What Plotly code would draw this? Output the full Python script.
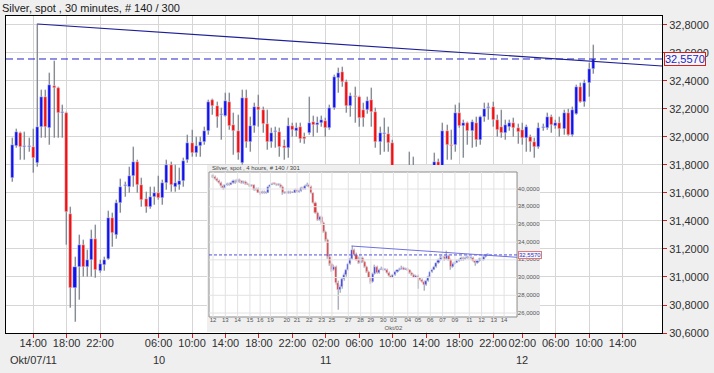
import plotly.graph_objects as go

# ---------------- main chart: Silver spot, 30-minute candles ----------------
bar_index = list(range(140))
opens = [31.707, 31.936, 32.029, 31.930, 31.930, 31.929, 31.814, 32.071, 32.286, 32.064,
         32.364, 32.350, 32.171, 32.171, 31.450, 30.921, 31.071, 31.229, 31.071, 31.121,
         31.271, 31.043, 31.086, 31.129, 31.421, 31.300, 31.529, 31.650, 31.643, 31.721,
         31.821, 31.657, 31.557, 31.500, 31.571, 31.600, 31.564, 31.671, 31.800, 31.643,
         31.657, 31.686, 31.836, 31.957, 31.886, 31.936, 31.964, 32.043, 32.264, 32.221,
         32.157, 32.150, 32.250, 32.086, 32.043, 31.814, 32.279, 31.964, 32.079, 32.214,
         32.193, 32.093, 31.964, 32.036, 32.036, 31.936, 31.921, 32.079, 32.043, 32.071,
         32.000, 32.029, 32.107, 32.086, 32.100, 32.114, 32.064, 32.207, 32.421, 32.464,
         32.393, 32.221, 32.293, 32.286, 32.193, 32.193, 32.264, 32.179, 31.964, 32.020,
         32.021, 31.957, 31.730, 31.600, 31.660, 31.560, 31.700, 31.620, 31.520, 31.600,
         31.550, 31.700, 31.820, 31.760, 32.043, 31.943, 31.943, 32.171, 32.079, 32.100,
         32.043, 32.100, 31.979, 32.143, 32.207, 32.214, 32.121, 32.071, 32.029, 32.070,
         32.100, 32.064, 32.050, 31.993, 32.000, 31.964, 31.929, 32.064, 32.064, 32.143,
         32.079, 32.100, 32.057, 32.171, 32.014, 32.164, 32.357, 32.250, 32.386, 32.486]
highs = [31.993, 32.057, 32.036, 32.036, 31.990, 32.057, 32.807, 32.336, 32.336, 32.457,
         32.543, 32.357, 32.229, 32.180, 31.500, 31.143, 31.300, 31.264, 31.193, 31.336,
         31.371, 31.121, 31.143, 31.471, 31.457, 31.550, 31.700, 31.679, 31.786, 31.930,
         31.836, 31.707, 31.607, 31.643, 31.643, 31.720, 31.693, 31.836, 31.821, 31.800,
         31.779, 31.850, 32.014, 32.050, 32.000, 32.000, 32.071, 32.264, 32.271, 32.250,
         32.207, 32.314, 32.314, 32.171, 32.157, 32.336, 32.336, 32.143, 32.243, 32.300,
         32.214, 32.193, 32.064, 32.070, 32.064, 31.979, 32.136, 32.100, 32.100, 32.100,
         32.030, 32.286, 32.150, 32.140, 32.150, 32.136, 32.230, 32.443, 32.493, 32.500,
         32.407, 32.314, 32.360, 32.290, 32.243, 32.286, 32.350, 32.207, 32.071, 32.136,
         32.070, 31.980, 31.740, 31.700, 31.720, 31.895, 31.860, 31.700, 31.640, 31.720,
         31.730, 31.886, 31.840, 32.100, 32.086, 32.050, 32.229, 32.243, 32.121, 32.107,
         32.121, 32.143, 32.150, 32.243, 32.243, 32.250, 32.157, 32.193, 32.120, 32.120,
         32.136, 32.090, 32.100, 32.086, 32.014, 31.993, 32.100, 32.090, 32.171, 32.157,
         32.120, 32.140, 32.193, 32.200, 32.214, 32.371, 32.386, 32.407, 32.529, 32.657]
lows = [31.679, 31.921, 31.836, 31.836, 31.893, 31.743, 31.786, 31.993, 31.993, 31.943,
        31.993, 31.993, 31.993, 31.229, 30.779, 30.680, 30.836, 30.999, 31.000, 31.000,
        30.993, 31.029, 31.043, 31.121, 31.214, 31.271, 31.457, 31.571, 31.600, 31.643,
        31.600, 31.500, 31.457, 31.486, 31.514, 31.550, 31.514, 31.621, 31.607, 31.607,
        31.621, 31.640, 31.814, 31.857, 31.857, 31.857, 31.943, 32.014, 32.157, 32.064,
        31.979, 32.143, 32.050, 31.871, 31.836, 31.800, 31.921, 31.893, 32.029, 32.071,
        32.029, 31.907, 31.921, 31.920, 31.857, 31.836, 31.850, 32.000, 32.000, 31.957,
        31.950, 32.014, 32.000, 32.030, 32.070, 32.000, 32.050, 32.193, 32.314, 32.357,
        32.171, 32.143, 32.100, 32.071, 32.070, 32.164, 32.071, 31.921, 31.871, 31.893,
        31.893, 31.700, 31.550, 31.500, 31.520, 31.500, 31.580, 31.480, 31.450, 31.500,
        31.500, 31.660, 31.700, 31.740, 31.836, 31.836, 31.893, 32.064, 31.850, 31.943,
        31.921, 31.929, 31.943, 32.107, 32.121, 32.071, 32.000, 31.993, 31.980, 32.040,
        32.000, 31.950, 31.943, 31.893, 31.893, 31.850, 31.914, 32.040, 32.050, 32.029,
        32.060, 32.000, 32.014, 32.007, 32.000, 32.157, 32.243, 32.214, 32.286, 32.450]
closes = [31.943, 32.036, 31.929, 31.930, 31.930, 31.850, 32.071, 32.286, 32.071, 32.371,
          32.350, 32.171, 32.171, 31.464, 30.921, 31.071, 31.229, 31.071, 31.121, 31.271,
          31.050, 31.093, 31.121, 31.421, 31.314, 31.529, 31.643, 31.650, 31.721, 31.821,
          31.657, 31.550, 31.500, 31.571, 31.600, 31.564, 31.671, 31.800, 31.657, 31.671,
          31.686, 31.829, 31.957, 31.886, 31.936, 31.964, 32.043, 32.250, 32.221, 32.143,
          32.157, 32.257, 32.079, 32.043, 31.886, 32.279, 31.964, 32.079, 32.214, 32.193,
          32.093, 31.964, 32.029, 32.036, 31.929, 31.921, 32.079, 32.050, 32.064, 31.986,
          31.986, 32.100, 32.086, 32.100, 32.121, 32.064, 32.207, 32.429, 32.457, 32.393,
          32.221, 32.293, 32.286, 32.136, 32.136, 32.257, 32.179, 31.964, 32.029, 32.020,
          31.957, 31.730, 31.600, 31.660, 31.560, 31.700, 31.620, 31.520, 31.600, 31.550,
          31.700, 31.820, 31.760, 32.043, 31.943, 31.936, 32.171, 32.079, 32.100, 32.043,
          32.107, 31.979, 32.143, 32.200, 32.207, 32.121, 32.050, 32.029, 32.086, 32.100,
          32.064, 32.036, 31.993, 32.071, 31.964, 31.929, 32.064, 32.064, 32.143, 32.086,
          32.100, 32.057, 32.171, 32.014, 32.193, 32.357, 32.250, 32.386, 32.486, 32.557]

last_price = 32.557
trend_index = [6, 155.43]
trend_price = [32.807, 32.507]

x_tick_index = [5, 13, 21, 35, 43, 51, 59, 67, 75, 83, 91, 99, 107, 115, 122, 130, 138, 146]
x_tick_text = ["14:00", "18:00", "22:00", "06:00", "10:00", "14:00", "18:00", "22:00", "02:00",
               "06:00", "10:00", "14:00", "18:00", "22:00", "02:00", "06:00", "10:00", "14:00"]
day_label_index = [5, 35, 75, 122]
day_label_text = ["Okt/07/11", "10", "11", "12"]
y_tick_values = [30.6, 30.8, 31.0, 31.2, 31.4, 31.6, 31.8, 32.0, 32.2, 32.4, 32.6, 32.8]

# ---------------- inset: Silver spot, 4-hour candles ----------------
inset_index = list(range(135))
inset_open = [41.5, 41.35, 41.1, 40.9, 40.7, 40.3, 40.1, 40.4, 40.6, 40.5,
              40.7, 40.9, 40.8, 41.0, 40.85, 40.7, 40.8, 40.6, 40.5, 40.3,
              40.4, 39.9, 40.0, 39.6, 39.5, 39.7, 39.5, 39.6, 40.2, 40.45,
              40.6, 40.55, 40.4, 40.5, 40.2, 39.5, 39.6, 39.5, 39.7, 39.55,
              39.6, 39.9, 39.7, 39.8, 40.1, 40.0, 40.3, 40.5, 40.2, 39.5,
              38.4, 37.3, 36.5, 36.8, 36.2, 35.2, 34.2, 32.3, 31.5, 30.85,
              31.2, 29.4, 28.6, 28.9, 29.8, 30.3, 30.85, 31.5, 32.1, 33.1,
              32.6, 32.0, 31.6, 32.2, 31.8, 31.2, 30.6, 30.0, 29.5, 30.4,
              31.2, 30.5, 30.9, 31.0, 30.85, 30.9, 30.5, 30.2, 30.0, 30.3,
              30.6, 30.8, 31.0, 31.1, 30.9, 31.0, 30.85, 30.5, 30.3, 30.0,
              30.2, 29.9, 29.7, 29.5, 29.2, 29.6, 30.1, 30.6, 30.9, 31.2,
              31.6, 32.0, 32.2, 32.3, 32.1, 32.4, 32.0, 31.2, 31.5, 31.7,
              31.9, 32.0, 32.2, 32.1, 32.2, 32.3, 32.2, 32.2, 31.9, 31.6,
              31.9, 32.1, 32.0, 32.3, 32.5]
inset_high = [41.6, 41.45, 41.2, 41.0, 40.8, 40.4, 40.5, 40.7, 40.7, 40.8,
              41.0, 41.0, 41.1, 41.1, 40.9, 40.9, 40.9, 40.7, 40.6, 40.5,
              40.5, 40.1, 40.1, 39.7, 39.8, 39.8, 39.7, 40.3, 40.5, 40.7,
              40.7, 40.6, 40.6, 40.6, 40.3, 39.7, 39.7, 39.8, 39.8, 39.7,
              40.0, 40.0, 39.9, 40.2, 40.2, 40.4, 40.7, 40.6, 40.3, 39.6,
              38.5, 37.4, 37.0, 36.9, 36.3, 35.3, 34.3, 32.5, 31.6, 31.4,
              31.3, 29.6, 29.2, 29.9, 30.5, 31.0, 31.6, 32.2, 33.6, 33.2,
              32.8, 32.3, 32.7, 32.3, 31.9, 31.3, 30.7, 30.1, 30.5, 31.4,
              31.3, 31.0, 31.2, 31.1, 31.0, 31.0, 30.6, 30.3, 30.4, 30.7,
              30.9, 31.1, 31.3, 31.2, 31.1, 31.1, 30.9, 30.6, 30.4, 30.3,
              30.3, 30.0, 29.8, 29.6, 29.7, 30.2, 30.7, 31.0, 31.3, 31.7,
              32.1, 32.4, 32.5, 32.4, 33.0, 32.5, 32.1, 31.6, 31.8, 32.0,
              32.1, 32.3, 32.3, 32.3, 32.4, 32.4, 32.3, 32.3, 32.0, 32.0,
              32.2, 32.2, 32.4, 32.6, 32.7]
inset_low = [41.2, 41.0, 40.8, 40.6, 40.1, 39.9, 40.0, 40.3, 40.3, 40.4,
             40.6, 40.6, 40.7, 40.7, 40.6, 40.6, 40.5, 40.4, 40.2, 40.2,
             39.8, 39.8, 39.5, 39.3, 39.4, 39.4, 39.4, 39.5, 40.1, 40.4,
             40.4, 40.3, 40.3, 40.1, 39.3, 39.4, 39.4, 39.4, 39.4, 39.5,
             39.5, 39.6, 39.6, 39.7, 39.9, 39.9, 40.2, 40.1, 39.4, 38.3,
             37.2, 36.4, 36.4, 36.0, 35.0, 34.0, 32.1, 31.3, 30.6, 30.7,
             29.2, 26.3, 28.3, 28.7, 29.6, 30.1, 30.7, 31.4, 32.0, 32.4,
             31.9, 31.5, 31.5, 31.7, 31.1, 30.5, 29.9, 29.3, 29.4, 30.3,
             30.4, 30.4, 30.8, 30.7, 30.7, 30.4, 30.1, 29.9, 29.9, 30.2,
             30.5, 30.7, 30.9, 30.8, 30.8, 30.7, 30.4, 30.2, 29.9, 29.9,
             28.7, 29.6, 29.4, 28.5, 29.1, 29.5, 30.0, 30.5, 30.8, 31.1,
             31.5, 31.9, 32.0, 31.9, 32.0, 31.9, 30.8, 31.1, 31.4, 31.6,
             31.8, 31.9, 31.9, 32.0, 32.1, 32.0, 32.0, 31.8, 31.3, 31.5,
             31.8, 31.9, 31.9, 32.2, 32.4]
inset_close = [41.35, 41.1, 40.9, 40.7, 40.3, 40.1, 40.4, 40.6, 40.5, 40.7,
               40.9, 40.8, 41.0, 40.85, 40.7, 40.8, 40.6, 40.5, 40.3, 40.4,
               39.9, 40.0, 39.6, 39.5, 39.7, 39.5, 39.6, 40.2, 40.45, 40.6,
               40.55, 40.4, 40.5, 40.2, 39.5, 39.6, 39.5, 39.7, 39.55, 39.6,
               39.9, 39.7, 39.8, 40.1, 40.0, 40.3, 40.5, 40.2, 39.5, 38.4,
               37.3, 36.5, 36.8, 36.2, 35.2, 34.2, 32.3, 31.5, 30.85, 31.2,
               29.4, 28.6, 28.9, 29.8, 30.3, 30.85, 31.5, 32.1, 33.1, 32.6,
               32.0, 31.6, 32.2, 31.8, 31.2, 30.6, 30.0, 29.5, 30.4, 31.2,
               30.5, 30.9, 31.0, 30.85, 30.9, 30.5, 30.2, 30.0, 30.3, 30.6,
               30.8, 31.0, 31.1, 30.9, 31.0, 30.85, 30.5, 30.3, 30.0, 30.2,
               29.9, 29.7, 29.5, 29.2, 29.6, 30.1, 30.6, 30.9, 31.2, 31.6,
               32.0, 32.2, 32.3, 32.1, 32.4, 32.0, 31.2, 31.5, 31.7, 31.9,
               32.0, 32.2, 32.1, 32.2, 32.3, 32.2, 32.2, 31.9, 31.6, 31.9,
               32.1, 32.0, 32.3, 32.5, 32.557]
inset_trend_index = [67.6, 148.3]
inset_trend_price = [33.56, 32.29]
inset_x_tick_index = [0, 6, 12, 18, 23, 28, 36, 41, 47, 53, 58, 66, 72, 77, 83, 88, 95,
                      100, 106, 112, 118, 125, 131, 137, 142]
inset_x_tick_text = ["12", "13", "14", "15", "16", "19", "20", "21", "22", "23", "25", "27",
                     "28", "29", "30", "03", "04", "05", "06", "07", "09", "11", "12", "13", "14"]
inset_month_index = [88]
inset_month_text = ["Okt/02"]
inset_y_tick_values = [26, 28, 30, 32, 34, 36, 38, 40]

# ---------------- layout constants ----------------
W, H = 714, 373
ML, MR, MT, MB = 6, 52, 16, 40
X_RANGE = [-1.507, 155.43]
Y_RANGE = [30.6, 32.864]
UP, DN = "#1212e8", "#f01010"
GRID = "#d6d6d6"
BG = "#efefef"
FONT = "Liberation Sans, Arial, sans-serif"

# inset geometry (in inset axis units)
IX_RANGE = [-2.93, 159.5]
IY_RANGE = [23.855, 42.71]
IPLOT_X = [-1.95, 148.3]
IPLOT_Y = [25.55, 41.92]
IUP, IDN, IWICK = "#3a3ad6", "#dc3c3c", "#5a5a5a"

fig = go.Figure()


def body_parts(o, c, min_h):
    base = [min(a, b) for a, b in zip(o, c)]
    hgt = [max(abs(b - a), min_h) for a, b in zip(o, c)]
    return base, hgt


# ---- main candles ----
fig.add_trace(go.Bar(x=bar_index, base=lows, y=[hh - ll for hh, ll in zip(highs, lows)],
                     width=0.24, marker_color="black", hoverinfo="skip", showlegend=False))
b_base, b_hgt = body_parts(opens, closes, 0.0075)
fig.add_trace(go.Bar(x=bar_index, base=b_base, y=b_hgt, width=0.72,
                     marker_color=[UP if c >= o else DN for o, c in zip(opens, closes)],
                     hoverinfo="skip", showlegend=False))
fig.add_trace(go.Scatter(x=X_RANGE, y=[last_price, last_price], mode="lines",
                         line=dict(color="#2424c4", width=1, dash="7px,4px"),
                         hoverinfo="skip", showlegend=False))
fig.add_trace(go.Scatter(x=trend_index, y=trend_price, mode="lines",
                         line=dict(color="#1e1e96", width=1.2),
                         hoverinfo="skip", showlegend=False))

# ---- inset ----
ax2 = dict(xaxis="x2", yaxis="y2")
gx, gy = [], []
for k in inset_x_tick_index:
    gx += [k, k, None]
    gy += [IPLOT_Y[0], IPLOT_Y[1], None]
for p in inset_y_tick_values:
    gx += [IPLOT_X[0], IPLOT_X[1], None]
    gy += [p, p, None]
fig.add_trace(go.Scatter(x=gx, y=gy, mode="lines", line=dict(color="#e2e2e2", width=1),
                         hoverinfo="skip", showlegend=False, **ax2))
fig.add_trace(go.Bar(x=inset_index, base=inset_low,
                     y=[hh - ll for hh, ll in zip(inset_high, inset_low)],
                     width=0.5, marker_color=IWICK, hoverinfo="skip", showlegend=False, **ax2))
ib_base, ib_hgt = body_parts(inset_open, inset_close, 0.12)
fig.add_trace(go.Bar(x=inset_index, base=ib_base, y=ib_hgt, width=1.0,
                     marker_color=[IUP if c >= o else IDN for o, c in zip(inset_open, inset_close)],
                     hoverinfo="skip", showlegend=False, **ax2))
fig.add_trace(go.Scatter(x=IPLOT_X, y=[last_price, last_price], mode="lines",
                         line=dict(color="#5050e0", width=1, dash="3px,2px"),
                         hoverinfo="skip", showlegend=False, **ax2))
fig.add_trace(go.Scatter(x=inset_trend_index, y=inset_trend_price, mode="lines",
                         line=dict(color="#7070e0", width=1),
                         hoverinfo="skip", showlegend=False, **ax2))
fig.add_trace(go.Scatter(x=[IPLOT_X[1] + 0.4] * len(inset_y_tick_values), y=inset_y_tick_values,
                         mode="text", text=[f"{v:.4f}".replace(".", ",") for v in inset_y_tick_values],
                         textposition="middle right", textfont=dict(size=6, color="#555555", family=FONT),
                         hoverinfo="skip", showlegend=False, **ax2))
fig.add_trace(go.Scatter(x=inset_x_tick_index, y=[25.1] * len(inset_x_tick_index),
                         mode="text", text=inset_x_tick_text, textposition="middle center",
                         textfont=dict(size=6, color="#555555", family=FONT),
                         hoverinfo="skip", showlegend=False, **ax2))
fig.add_trace(go.Scatter(x=inset_month_index, y=[24.3], mode="text", text=inset_month_text,
                         textposition="middle center", textfont=dict(size=6, color="#555555", family=FONT),
                         hoverinfo="skip", showlegend=False, **ax2))

shapes = [
    dict(type="rect", xref="x2", yref="y2", x0=IX_RANGE[0], x1=IX_RANGE[1], y0=IY_RANGE[0], y1=IY_RANGE[1],
         fillcolor=BG, line=dict(width=0), layer="below"),
    dict(type="rect", xref="x2", yref="y2", x0=IPLOT_X[0], x1=IPLOT_X[1], y0=IPLOT_Y[0], y1=IPLOT_Y[1],
         fillcolor="white", line=dict(color="#8c8c8c", width=1), layer="below"),
]

annotations = [
    dict(text=t, x=i, y=-0.085, xref="x", yref="paper", showarrow=False,
         font=dict(size=11, color="#303030", family=FONT), xanchor="center", yanchor="middle")
    for i, t in zip(day_label_index, day_label_text)
]
annotations.append(dict(text=f"{last_price:.4f}".replace(".", ","), x=1, xref="paper", xshift=2,
                        y=last_price, yref="y", showarrow=False, xanchor="left", yanchor="middle",
                        font=dict(size=11, color="#1c1cc8", family=FONT),
                        bordercolor="#d42020", borderwidth=1, borderpad=0, bgcolor="#f7f7f7"))
annotations.append(dict(text="Silver, spot , 4 hours, # 140 / 301", x=IPLOT_X[0] + 0.3, y=IPLOT_Y[1],
                        xref="x2", yref="y2", showarrow=False, xanchor="left", yanchor="bottom",
                        yshift=-1, font=dict(size=6, color="#444444", family=FONT)))
annotations.append(dict(text=f"{last_price:.4f}".replace(".", ","), x=IPLOT_X[1] + 0.6, y=last_price,
                        xref="x2", yref="y2", showarrow=False, xanchor="left", yanchor="middle",
                        font=dict(size=6, color="#3030d0", family=FONT),
                        bordercolor="#e07a7a", borderwidth=1, borderpad=0, bgcolor="#f7f7f7"))

fig.update_layout(
    width=W, height=H,
    margin=dict(l=ML, r=MR, t=MT, b=MB, pad=0),
    paper_bgcolor=BG, plot_bgcolor="white",
    separators=",.",
    barmode="overlay", bargap=0, bargroupgap=0,
    showlegend=False,
    font=dict(family=FONT, size=11, color="#303030"),
    title=dict(text="Silver, spot , 30 minutes, # 140 / 300", x=2 / W, xanchor="left",
               y=1 - 8 / H, yanchor="middle", xref="container", yref="container",
               font=dict(size=11, color="#202020", family=FONT)),
    xaxis=dict(range=X_RANGE, tickmode="array", tickvals=x_tick_index, ticktext=x_tick_text,
               tickangle=0, automargin=False, ticklabelstandoff=-4,
               showgrid=True, gridcolor=GRID, gridwidth=1, zeroline=False,
               showline=True, linecolor="black", linewidth=1, mirror=True,
               ticks="outside", ticklen=4, tickcolor="#d02020", tickwidth=1,
               tickfont=dict(size=11, color="#303030", family=FONT), fixedrange=True),
    yaxis=dict(range=Y_RANGE, side="right", tickmode="array", tickvals=y_tick_values,
               tickformat=".4f", automargin=False, showgrid=True, gridcolor=GRID, gridwidth=1,
               zeroline=False, showline=True, linecolor="black", linewidth=1, mirror=True,
               ticks="outside", ticklen=4, tickcolor="#d02020", tickwidth=1,
               tickfont=dict(size=11, color="#303030", family=FONT), fixedrange=True),
    xaxis2=dict(domain=[(207 - ML) / 656, (540 - ML) / 656], range=IX_RANGE, anchor="y2",
                visible=False, fixedrange=True),
    yaxis2=dict(domain=[1 - (332 - MT) / 317, 1 - (165 - MT) / 317], range=IY_RANGE, anchor="x2",
                visible=False, fixedrange=True),
    shapes=shapes,
    annotations=annotations,
)

fig.write_html("out.html", config={"displayModeBar": False})
